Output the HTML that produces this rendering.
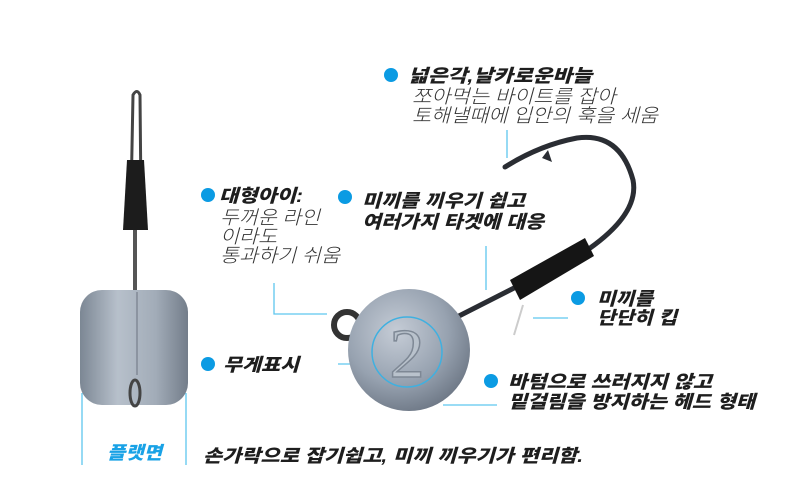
<!DOCTYPE html>
<html><head><meta charset="utf-8"><style>
body{margin:0;background:#fff;width:800px;height:500px;overflow:hidden}
svg{display:block}
.b{font-family:"Liberation Sans","Noto Sans CJK KR",sans-serif;font-weight:900;font-style:italic;fill:#1e1e1e;font-size:18px}
.r{font-family:"Liberation Sans","Noto Sans CJK KR",sans-serif;font-weight:300;font-style:italic;fill:#333;font-size:19px}
</style></head><body>
<svg width="800" height="500" viewBox="0 0 800 500">
<defs>
<radialGradient id="lead" cx="40%" cy="35%" r="70%"><stop offset="0" stop-color="#c5ccd6"/><stop offset="0.6" stop-color="#97a2b0"/><stop offset="1" stop-color="#6c7684"/></radialGradient>
<linearGradient id="sq" x1="0" x2="1"><stop offset="0" stop-color="#7c8794"/><stop offset="0.35" stop-color="#b7c0cb"/><stop offset="0.7" stop-color="#a2acb8"/><stop offset="1" stop-color="#737d8a"/></linearGradient>
</defs>
<g stroke="#5ec6ef" stroke-width="1.3" fill="none">
<line x1="507" y1="130" x2="507" y2="158"/>
<line x1="486" y1="246" x2="486" y2="290"/>
<polyline points="274,283 274,314 327,314"/>
<line x1="533" y1="318" x2="568" y2="318"/>
<line x1="338" y1="364" x2="374" y2="364"/>
<line x1="443" y1="405" x2="497" y2="405"/>
<line x1="82" y1="393" x2="82" y2="465"/>
<line x1="186" y1="393" x2="186" y2="465"/>
</g>
<!-- left sinker -->
<path d="M133,95 Q137,88 140,95 L141,200 L136,210 L131,200 Z" fill="none" stroke="#444" stroke-width="3"/>
<line x1="135" y1="210" x2="135" y2="292" stroke="#555" stroke-width="4"/>
<path d="M127,160 L144,160 L148,230 L123,230 Z" fill="#1c1c1c"/>
<rect x="80" y="290" width="108" height="115" rx="22" fill="url(#sq)"/>
<line x1="137" y1="292" x2="137" y2="375" stroke="#6c7380" stroke-width="1"/>
<ellipse cx="135" cy="393" rx="5" ry="13" fill="none" stroke="#444" stroke-width="3"/>
<!-- hook -->
<path d="M455,318 L583,253 Q640,215 633,180 Q620,132 577,138 Q540,145 505,167" fill="none" stroke="#2a2d33" stroke-width="5" stroke-linecap="round"/>
<path d="M548,150 L552,162 L542,158 Z" fill="#2a2d33"/>
<path d="M510,280 L585,238 L594,256 L520,300 Z" fill="#151515"/>
<line x1="523" y1="305" x2="514" y2="335" stroke="#ccc" stroke-width="2"/>
<circle cx="347" cy="325" r="13" fill="none" stroke="#333" stroke-width="6"/>
<circle cx="409" cy="350" r="61" fill="url(#lead)"/>
<circle cx="407" cy="352" r="35" fill="none" stroke="#3fb0e0" stroke-width="1.5"/>
<text x="407" y="377" text-anchor="middle" font-family="Liberation Serif,serif" font-size="70" fill="#b9c2cc" stroke="#7e8895" stroke-width="1.5">2</text>
<!-- dots -->
<g fill="#0b9be3">
<circle cx="391" cy="75" r="7"/><circle cx="208" cy="195" r="7"/><circle cx="345" cy="197" r="7"/>
<circle cx="578" cy="298" r="7"/><circle cx="208" cy="364" r="7"/><circle cx="491" cy="381" r="7"/>
</g>
<g lengthAdjust="spacingAndGlyphs">
<text class="b" x="408" y="82" textLength="184" lengthAdjust="spacingAndGlyphs">넓은각,날카로운바늘</text>
<text class="r" x="412" y="103" textLength="204" lengthAdjust="spacingAndGlyphs">쪼아먹는 바이트를 잡아</text>
<text class="r" x="412" y="122" textLength="246" lengthAdjust="spacingAndGlyphs">토해낼때에 입안의 훅을 세움</text>
<text class="b" x="219" y="202" textLength="84" lengthAdjust="spacingAndGlyphs">대형아이:</text>
<text class="r" x="220" y="224" textLength="100" lengthAdjust="spacingAndGlyphs">두꺼운 라인</text>
<text class="r" x="220" y="243" textLength="57" lengthAdjust="spacingAndGlyphs">이라도</text>
<text class="r" x="220" y="262" textLength="120" lengthAdjust="spacingAndGlyphs">통과하기 쉬움</text>
<text class="b" x="362" y="207" textLength="163" lengthAdjust="spacingAndGlyphs">미끼를 끼우기 쉽고</text>
<text class="b" x="362" y="228" textLength="182" lengthAdjust="spacingAndGlyphs">여러가지 타겟에 대응</text>
<text class="b" x="597" y="305" textLength="56" lengthAdjust="spacingAndGlyphs">미끼를</text>
<text class="b" x="597" y="324" textLength="80" lengthAdjust="spacingAndGlyphs">단단히 킵</text>
<text class="b" x="223" y="371" textLength="76" lengthAdjust="spacingAndGlyphs">무게표시</text>
<text class="b" x="508" y="388" textLength="204" lengthAdjust="spacingAndGlyphs">바텀으로 쓰러지지 않고</text>
<text class="b" x="508" y="408" textLength="247" lengthAdjust="spacingAndGlyphs">밑걸림을 방지하는 헤드 형태</text>
<text class="b" x="107" y="459" textLength="55" lengthAdjust="spacingAndGlyphs" style="fill:#19a2e6">플랫면</text>
<text class="b" x="203" y="462" textLength="380" lengthAdjust="spacingAndGlyphs">손가락으로 잡기쉽고, 미끼 끼우기가 편리함.</text>
</g>
</svg>
</body></html>
